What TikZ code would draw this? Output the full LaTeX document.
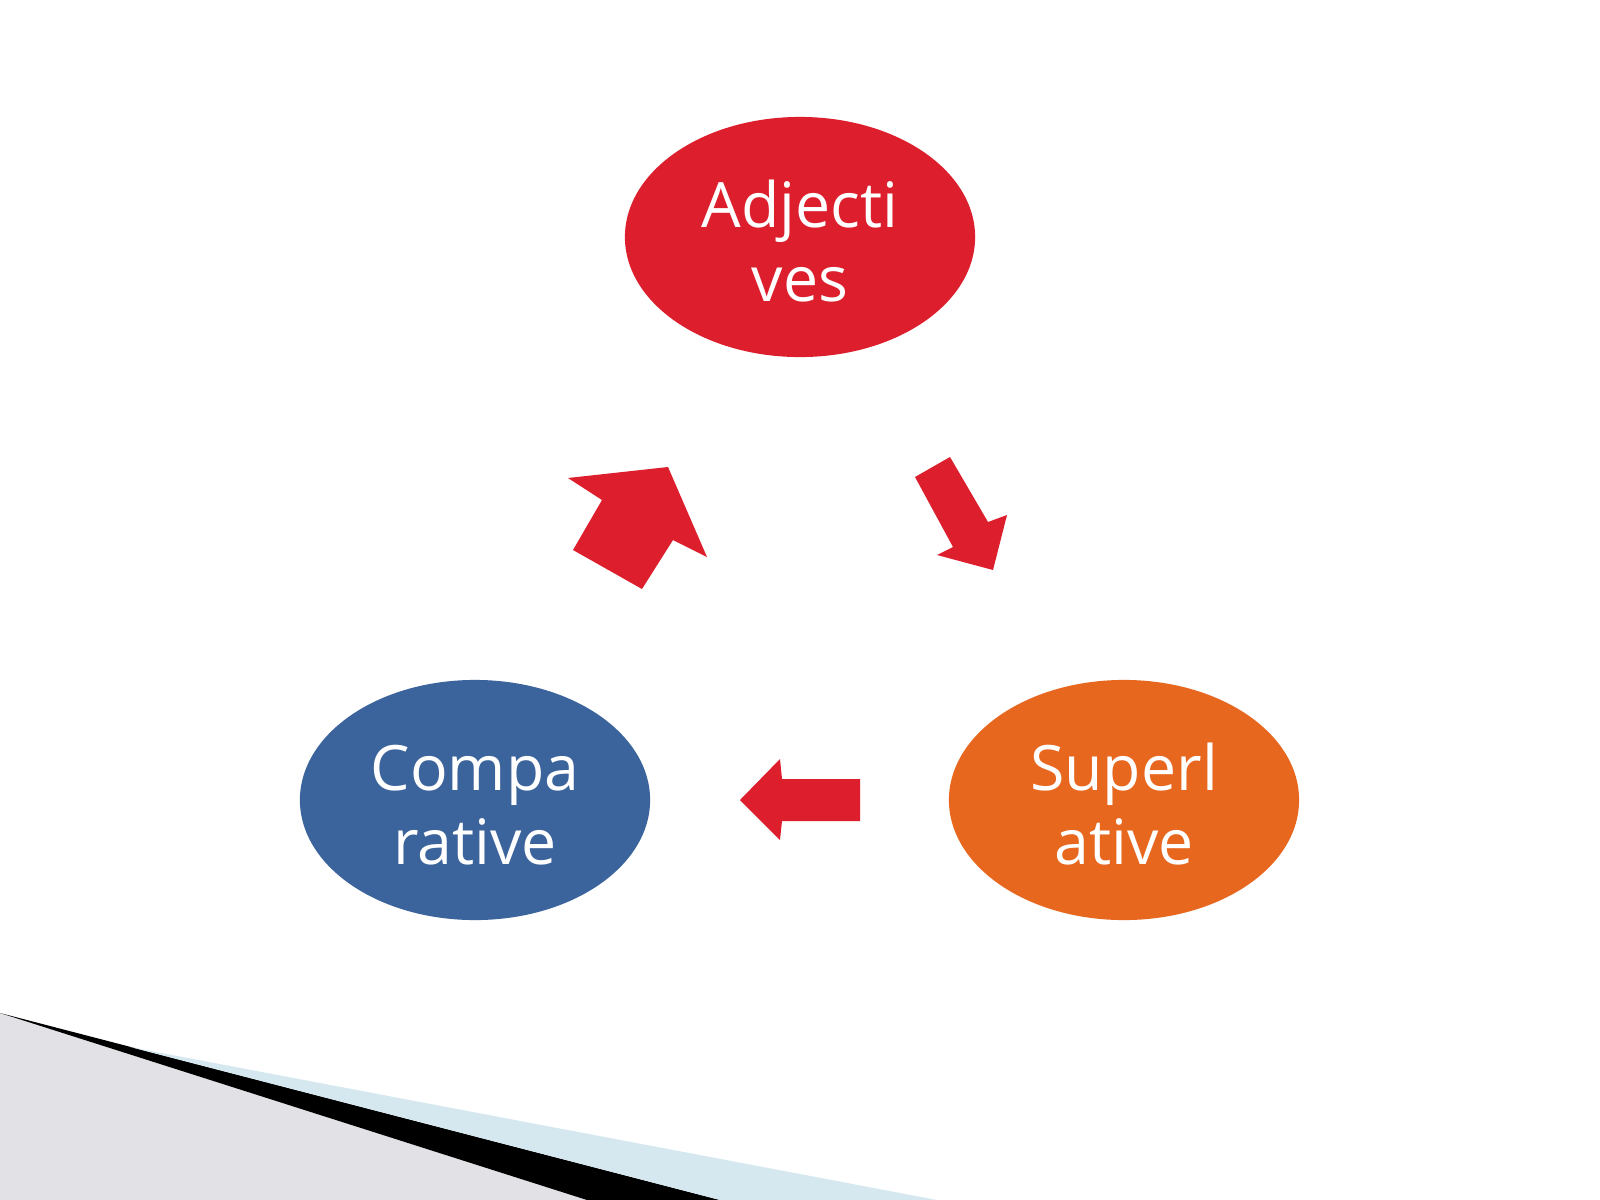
\documentclass[tikz,border=0pt]{standalone}
\usepackage{fontspec}
\setmainfont{Open Sans}
\usetikzlibrary{shapes,positioning}
\definecolor{ppt_red}{RGB}{221,30,45}
\definecolor{ppt_blue}{RGB}{59,99,156}
\definecolor{ppt_orange}{RGB}{232,103,31}
\definecolor{swoosh_gray}{RGB}{226,226,230}
\definecolor{swoosh_blue}{RGB}{214,232,239}
\newcommand{\tallline}{\rule{0pt}{16pt}}
\tikzset{
        bubble/.style={ellipse, align=center, inner sep=0pt, text=white,
            minimum width=3.5cm, minimum height=2.4cm,
            font=\fontsize{17.8}{21}\selectfont},
        % Top bubble
        bubble_red/.style={bubble, fill=ppt_red},
        % Left bubble
        bubble_blue/.style={bubble, fill=ppt_blue},
        % Right bubble
        bubble_orange/.style={bubble, fill=ppt_orange},
        % Block arrows
        block_arrow/.style={fill=ppt_red}
}
\begin{document}
\begin{tikzpicture}[x=0.01cm, y=-0.01cm]
    \fill[white] (0,0) rectangle (1600,1200);
    \useasboundingbox (0,0) rectangle (1600,1200);
    % swoosh in the corner
    \fill[swoosh_gray] (0,1013) -- (587,1200) -- (0,1200) -- cycle;
    \fill[black] (0,1013) -- (720,1200) -- (587,1200) -- cycle;
    \fill[swoosh_blue] (130,1047) -- (937,1200) -- (720,1200) -- cycle;
    % bubbles
    \node[bubble_red] (adj) at (800,237) {\tallline Adjecti\\ves};
    \node[bubble_blue] (comp) at (475,800) {\tallline Compa\\rative};
    \node[bubble_orange] (sup) at (1124,800) {\tallline Superl\\ative};
    % arrows
    \fill[block_arrow] (915,477) -- (950,457) -- (988,522) -- (1007,515)
        -- (993,570) -- (937,555) -- (953,547) -- cycle;
    \fill[block_arrow] (860,779) -- (782,779) -- (780,759) -- (740,800)
        -- (780,840) -- (782,821) -- (860,821) -- cycle;
    \fill[block_arrow] (642,589) -- (673,540) -- (707,557) -- (668,467)
        -- (568,478) -- (602,500) -- (573,550) -- cycle;
\end{tikzpicture}
\end{document}
